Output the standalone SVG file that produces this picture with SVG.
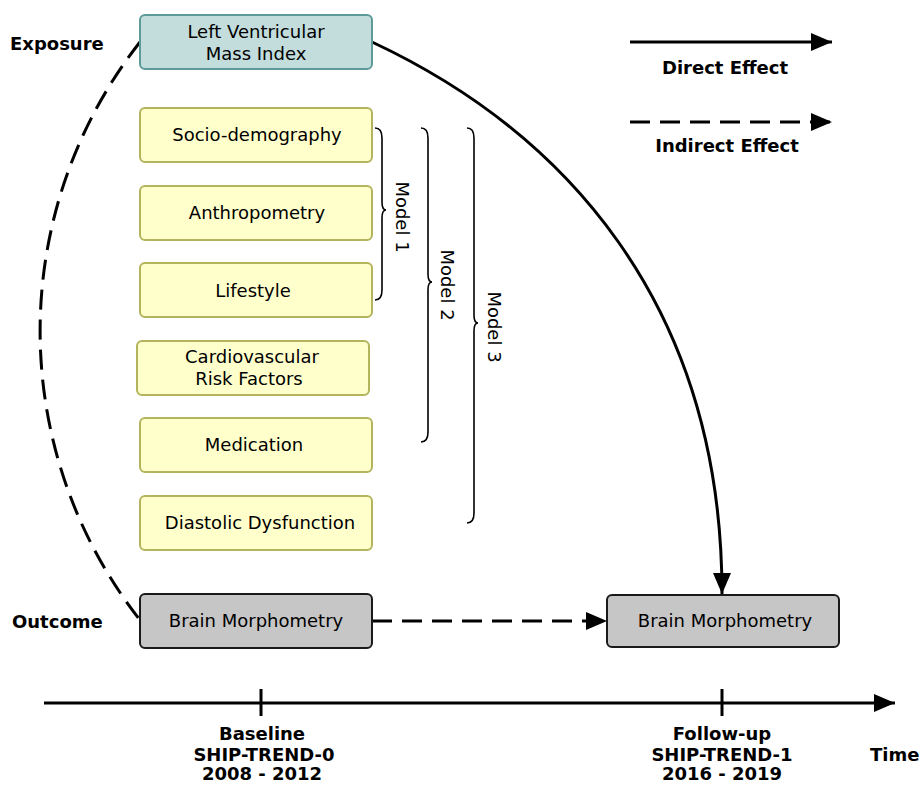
<svg xmlns="http://www.w3.org/2000/svg" width="920" height="785" viewBox="0 0 920 785">
<style>
text{font-family:"DejaVu Sans","Liberation Sans",sans-serif;font-size:18px;fill:#000}
.c{text-anchor:middle}
.b{font-weight:bold}
.lv{fill:#c2dddc;stroke:#5e9a98;stroke-width:2}
.ye{fill:#ffffcc;stroke:#b4b45c;stroke-width:2}
.gr{fill:#c6c6c6;stroke:#1a1a1a;stroke-width:2}
.ln{fill:none;stroke:#000;stroke-width:3}
.da{stroke-dasharray:20 10}
.br{fill:none;stroke:#000;stroke-width:1.6}
</style>
<defs>
<marker id="ah" markerWidth="7" markerHeight="6" refX="7" refY="3" orient="auto" markerUnits="strokeWidth">
<path d="M0,0 L7,3 L0,6 Z" fill="#000"/>
</marker>
</defs>
<g id="connectors">
<path class="ln da" d="M140,42 A468,468 0 0 0 140,620"/>
<path class="ln" d="M372,42 C560,130 722,300 722,594" marker-end="url(#ah)"/>
<path class="ln da" d="M372,621 L607,621" marker-end="url(#ah)"/>
</g>
<g id="legend">
<path class="ln" d="M630,42 L832,42" marker-end="url(#ah)"/>
<text class="c b" x="725" y="74">Direct Effect</text>
<path class="ln da" d="M630,122 L832,122" marker-end="url(#ah)"/>
<text class="c b" x="727" y="152">Indirect Effect</text>
</g>
<g id="labels">
<text class="b" x="10" y="50">Exposure</text>
<text class="b" x="12" y="628">Outcome</text>
</g>
<g id="lvmi">
<rect class="lv" x="140" y="15" width="232" height="54" rx="5"/>
<text class="c" x="256" y="38">Left Ventricular</text>
<text class="c" x="256" y="60">Mass Index</text>
</g>
<g id="socio">
<rect class="ye" x="140" y="108" width="232" height="54" rx="5"/>
<text class="c" x="257" y="141">Socio-demography</text>
</g>
<g id="anthro">
<rect class="ye" x="140" y="186" width="232" height="54" rx="5"/>
<text class="c" x="257" y="219">Anthropometry</text>
</g>
<g id="lifestyle">
<rect class="ye" x="140" y="263" width="232" height="54" rx="5"/>
<text class="c" x="253" y="297">Lifestyle</text>
</g>
<g id="cardio">
<rect class="ye" x="137" y="341" width="232" height="54" rx="5"/>
<text class="c" x="252" y="363">Cardiovascular</text>
<text class="c" x="249" y="385">Risk Factors</text>
</g>
<g id="medication">
<rect class="ye" x="140" y="418" width="232" height="54" rx="5"/>
<text class="c" x="254" y="451">Medication</text>
</g>
<g id="diastolic">
<rect class="ye" x="140" y="496" width="232" height="54" rx="5"/>
<text class="c" x="260" y="529">Diastolic Dysfunction</text>
</g>
<g id="brain0">
<rect class="gr" x="140" y="594" width="232" height="54" rx="5"/>
<text class="c" x="256" y="627">Brain Morphometry</text>
</g>
<g id="brain1">
<rect class="gr" x="607" y="595" width="232" height="52" rx="5"/>
<text class="c" x="725" y="627">Brain Morphometry</text>
</g>
<g id="models">
<path class="br" d="M375,128 Q382,128 382,138 L382,202 Q382,210 386,210 Q382,210 382,218 L382,290 Q382,300 375,300"/>
<text class="c" transform="translate(396,217) rotate(90)">Model 1</text>
<path class="br" d="M421,128 Q428,128 428,138 L428,274 Q428,282 432,282 Q428,282 428,290 L428,432 Q428,442 421,442"/>
<text class="c" transform="translate(441,285) rotate(90)">Model 2</text>
<path class="br" d="M467,128 Q474,128 474,138 L474,315 Q474,323 478,323 Q474,323 474,331 L474,513 Q474,523 467,523"/>
<text class="c" transform="translate(488,327) rotate(90)">Model 3</text>
</g>
<g id="timeline">
<path class="ln" d="M44,703 L895,703" marker-end="url(#ah)"/>
<path class="ln" d="M261,689 L261,716 M722,689 L722,716"/>
<text class="c b" x="262" y="740">Baseline</text>
<text class="c b" x="264" y="761">SHIP-TREND-0</text>
<text class="c b" x="262" y="780">2008 - 2012</text>
<text class="c b" x="722" y="740">Follow-up</text>
<text class="c b" x="722" y="761">SHIP-TREND-1</text>
<text class="c b" x="722" y="780">2016 - 2019</text>
<text class="b" x="870" y="761">Time</text>
</g>
</svg>
